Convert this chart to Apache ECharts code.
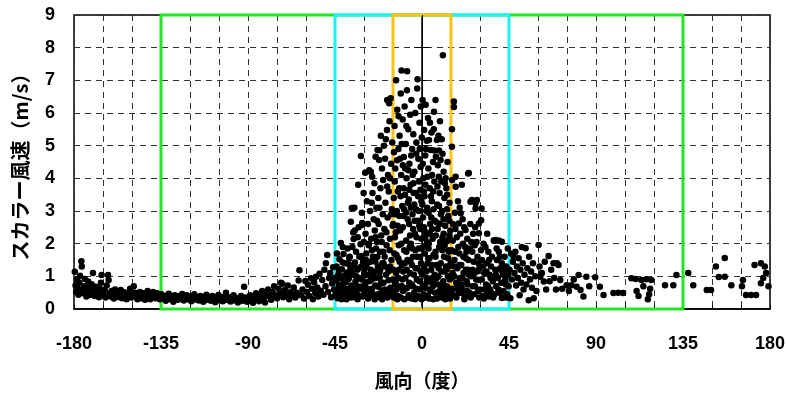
<!DOCTYPE html>
<html>
<head>
<meta charset="utf-8">
<script src="https://cdn.jsdelivr.net/npm/echarts@6/dist/echarts.min.js"></script>
<style>
html,body{margin:0;padding:0;background:#fff;}
#chart{width:786px;height:394px;}
</style>
</head>
<body>
<div id="chart"></div>
<script>
// 風向 (deg) / スカラー風速 (m/s)
var farWest = [[-179.6,1.14],[-179.2,0.72],[-178.9,0.52],[-178.4,0.9],[-178.1,0.63],[-177.7,0.44],[-177.3,0.8],[-176.9,1.02],[-176.2,1.46],[-176,1.3],[-175.7,0.58],[-175.3,0.48],[-174.9,0.7],[-174.4,0.92],[-174,0.55],[-173.6,0.38],[-173.1,0.66],[-172.7,0.84],[-172.3,0.5],[-171.9,0.62],[-171.4,0.44],[-170.9,0.76],[-170.2,1.1],[-169.8,0.53],[-169.3,0.4],[-168.8,0.68],[-168.2,0.57],[-167.7,0.47],[-167.1,0.36],[-166.6,0.62],[-166.1,0.8],[-165.7,1.04],[-165.2,0.5],[-164.8,0.42],[-164.2,0.58],[-163.7,0.35],[-163.1,0.72],[-162.4,1.04],[-162.1,0.89],[-161.6,0.48],[-161,0.38],[-160.5,0.55],[-160,0.45],[-159.4,0.32],[-158.8,0.6],[-158.2,0.42],[-157.6,0.5],[-157,0.37],[-156.4,0.46],[-155.8,0.58],[-155.2,0.33],[-154.6,0.42],[-154,0.51],[-153.4,0.38],[-152.8,0.3],[-152.2,0.47],[-151.6,0.4],[-151,0.62],[-150.4,0.35],[-149.8,0.44],[-149.1,0.7],[-148.5,0.5],[-147.8,0.38],[-147.2,0.3],[-146.6,0.45],[-145.9,0.52],[-145.3,0.33],[-144.6,0.4],[-144,0.48],[-143.3,0.28],[-142.6,0.42],[-141.9,0.55],[-141.2,0.36],[-140.5,0.3],[-139.8,0.45],[-139.1,0.52],[-138.4,0.4],[-137.7,0.33],[-137,0.48],[-136.3,0.38],[-135.6,0.3]];

var west = [[-134.8,0.45],[-134,0.32],[-133.2,0.4],[-132.5,0.25],[-131.7,0.38],[-131,0.47],[-130.2,0.3],[-129.4,0.36],[-128.6,0.22],[-127.9,0.42],[-127.1,0.34],[-126.3,0.28],[-125.5,0.4],[-124.8,0.31],[-124,0.46],[-123.2,0.26],[-122.4,0.35],[-121.6,0.42],[-120.9,0.3],[-120.1,0.38],[-119.3,0.24],[-118.5,0.33],[-117.8,0.45],[-117,0.29],[-116.2,0.37],[-115.4,0.26],[-114.6,0.4],[-113.9,0.32],[-113.1,0.22],[-112.3,0.35],[-111.5,0.44],[-110.8,0.28],[-110,0.36],[-109.2,0.25],[-108.4,0.4],[-107.6,0.3],[-106.9,0.21],[-106.1,0.34],[-105.3,0.43],[-104.5,0.27],[-103.8,0.37],[-103,0.24],[-102.2,0.32],[-101.4,0.5],[-100.7,0.28],[-99.9,0.36],[-99.1,0.23],[-98.3,0.3],[-97.5,0.42],[-96.8,0.26],[-96,0.34],[-95.2,0.2],[-94.4,0.31],[-93.6,0.4],[-92.9,0.25],[-92,0.68],[-91.3,0.35],[-90.5,0.22],[-89.7,0.3],[-88.9,0.42],[-88.2,0.27],[-87.4,0.19],[-86.6,0.36],[-85.8,0.48],[-85,0.3],[-84.3,0.24],[-83.5,0.4],[-82.7,0.55],[-81.9,0.33],[-81.2,0.2],[-80.4,0.44],[-79.6,0.6],[-78.8,0.38],[-78,0.28],[-77.3,0.52],[-76.5,0.7],[-75.7,0.42],[-74.9,0.33],[-74.2,0.62],[-73.4,0.48],[-72.9,0.8],[-72.3,0.77],[-71.8,0.36],[-71,0.58],[-70.2,0.44],[-69.4,0.72],[-68.7,0.3],[-67.9,0.52],[-67.1,0.4],[-66.3,0.66],[-65.5,0.35],[-64.8,0.5],[-63.8,0.87],[-63.4,1.19],[-62.6,0.42],[-61.8,0.6],[-61,0.32],[-60.3,0.86]];

var nearWest = [[-59.6,0.52],[-59,0.74],[-58.3,0.4],[-57.4,0.94],[-57,0.62],[-56.4,0.3],[-55.8,0.82],[-55.2,0.48],[-54.8,0.99],[-54.2,0.66],[-53.6,0.38],[-53,1.08],[-52.4,0.56],[-51.6,0.89],[-51,0.44],[-50.5,1.2],[-49.9,0.7],[-49.7,1.4],[-49,1.65],[-48.6,0.52],[-48,0.95],[-47.5,1.1],[-47,0.36],[-46.5,0.78],[-46,1.28],[-45.5,0.6],[-45.2,0.95]];

var coreA = [[-44.8,0.42],[-44.5,0.88],[-44.2,1.3],[-43.9,0.6],[-43.6,0.33],[-43.3,1.05],[-43,0.75],[-42.7,1.52],[-42.4,0.5],[-42,2.02],[-41.8,0.95],[-41.5,1.22],[-41.2,0.38],[-40.9,0.68],[-40.6,1.68],[-40.3,1.02],[-40,0.52],[-39.7,1.4],[-39.4,0.82],[-39.1,0.3],[-38.8,1.12],[-38.5,1.85],[-38.2,0.62],[-37.9,0.95],[-37.6,1.55],[-37.3,0.44],[-37,1.25],[-36.8,2.67],[-36.5,0.72],[-36.3,3.09],[-36,1.9],[-35.8,1.05],[-35.6,2.34],[-35.4,2.14],[-35.2,0.36],[-35,3.1],[-34.7,1.42],[-34.4,0.85],[-34.1,1.75],[-33.8,0.55],[-33.5,1.2],[-33.2,2.2],[-33,3.8],[-32.7,0.95],[-32.4,1.6],[-32.1,0.4],[-31.8,1.98],[-31.6,4.68],[-31.4,1.3],[-31.1,2.95],[-31,2.57],[-30.9,2.63],[-30.7,0.7],[-30.5,1.45],[-30.2,3.55],[-30.1,2.05],[-30,1.02],[-44,1.7],[-43.1,0.5],[-41,1.9],[-39.5,0.45],[-38,1.38],[-36.2,0.58],[-34.8,2.4],[-33.4,0.7],[-32.8,2.5],[-31.2,0.9]];

var coreB = [[-29.8,0.5],[-29.6,1.25],[-29.4,4.17],[-29.2,2.3],[-29,0.82],[-28.8,1.7],[-28.5,3.3],[-28.3,0.38],[-28,2.6],[-27.8,1.05],[-27.6,1.95],[-27.3,4.25],[-27.1,0.6],[-26.9,3.0],[-26.7,1.45],[-26.5,4.2],[-26.3,2.15],[-26,0.9],[-25.8,4.05],[-25.6,3.55],[-25.4,1.6],[-25.2,0.45],[-25,2.75],[-24.8,1.15],[-24.6,3.85],[-24.4,2.4],[-24.2,0.72],[-24,4.66],[-23.8,1.85],[-23.6,3.1],[-23.4,0.35],[-23.2,2.05],[-23,4.87],[-22.8,1.3],[-22.6,3.4],[-22.4,2.6],[-22.2,4.56],[-22.1,4.86],[-21.9,0.95],[-21.7,1.75],[-21.5,3.7],[-21.3,5.3],[-21.1,2.25],[-20.9,0.55],[-20.7,4.3],[-20.5,1.4],[-20.3,2.9],[-20.1,3.95],[-19.9,0.8],[-19.7,5.0],[-19.5,2.45],[-19.3,1.6],[-19.1,4.6],[-18.9,3.25],[-18.7,5.2],[-18.5,0.42],[-18.3,1.95],[-18.1,5.48],[-18,6.4],[-17.8,2.8],[-17.6,4.1],[-17.4,1.15],[-17.2,3.6],[-17,6.3],[-16.8,5.75],[-16.6,2.15],[-16.4,0.65],[-16.2,6.45],[-16,4.45],[-15.8,1.5],[-15.6,3.05],[-15.4,5.1],[-15.2,2.55],[-15.1,0.9],[-29,1.5],[-28.2,0.62],[-27.4,2.0],[-26.6,0.5],[-25.9,1.8],[-25,0.4],[-24.1,1.45],[-23.3,2.7],[-22.5,0.68],[-21.6,1.2],[-20.8,2.05],[-20,0.38],[-19.2,1.3],[-18.4,2.35],[-17.5,0.55],[-16.7,1.8],[-15.9,2.9],[-15.5,0.4]];

var coreC = [[-14.8,1.2],[-14.6,3.4],[-14.4,0.5],[-14.2,5.6],[-14,2.2],[-13.8,4.3],[-13.6,0.85],[-13.4,7.0],[-13.2,1.65],[-13,3.0],[-12.8,6.1],[-12.6,2.55],[-12.4,0.4],[-12.2,4.9],[-12,1.95],[-11.8,3.7],[-11.6,5.3],[-11.4,0.7],[-11.2,2.4],[-11,6.6],[-10.8,4.1],[-10.6,7.3],[-10.4,1.35],[-10.2,3.15],[-10,5.8],[-9.8,0.55],[-9.6,2.85],[-9.4,4.65],[-9.2,1.8],[-9,6.2],[-8.8,3.5],[-8.6,0.95],[-8.4,5.05],[-8.2,2.1],[-8,4.0],[-7.8,6.7],[-7.7,7.28],[-7.5,1.5],[-7.3,3.25],[-7.1,5.5],[-6.9,0.42],[-6.7,2.6],[-6.5,4.45],[-6.3,1.1],[-6.1,5.95],[-5.9,3.8],[-5.7,2.0],[-5.5,6.4],[-5.3,0.75],[-5.1,4.9],[-4.9,2.9],[-4.7,1.6],[-4.5,5.35],[-4.3,3.55],[-4.1,0.5],[-3.9,4.2],[-3.7,2.3],[-3.5,6.0],[-3.3,1.25],[-3.1,3.05],[-2.9,5.1],[-2.7,0.9],[-2.5,6.75],[-2.3,7.03],[-2.1,2.7],[-1.9,4.6],[-1.7,1.85],[-1.5,3.9],[-1.3,5.7],[-1.1,0.6],[-0.9,2.45],[-0.7,4.35],[-0.5,1.4],[-0.3,3.3],[-0.1,5.25],[-14.9,2.6],[-14.3,1.7],[-13.7,2.9],[-13.1,0.6],[-12.5,3.6],[-11.9,1.2],[-11.3,4.6],[-10.7,2.0],[-10.1,0.9],[-9.5,3.7],[-8.9,1.4],[-8.3,2.95],[-7.6,0.65],[-7,4.25],[-6.4,1.9],[-5.8,3.1],[-5.2,1.35],[-4.6,2.45],[-4,3.2],[-3.4,1.8],[-2.8,2.2],[-2.2,0.4],[-1.6,3.0],[-1,1.6],[-0.4,2.15],[-14.5,4.8],[-12.1,5.9],[-9.9,4.4],[-8.1,5.6],[-6.6,3.65],[-4.8,4.1],[-3,4.75],[-1.2,4.9],[-0.6,6.2]];

var coreD = [[0.1,1.05],[0.3,6.4],[0.5,2.8],[0.7,4.0],[0.9,0.45],[1.1,5.48],[1.3,3.45],[1.5,1.7],[1.7,4.7],[1.9,6.25],[2.1,2.35],[2.3,0.8],[2.5,5.15],[2.7,3.1],[2.9,1.4],[3.1,5.85],[3.3,4.3],[3.5,2.0],[3.6,5.17],[3.8,0.6],[4,3.7],[4.2,2.6],[4.5,4.87],[4.7,1.2],[4.9,5.4],[5.1,3.3],[5.3,0.95],[5.5,2.15],[5.7,4.5],[5.9,1.65],[6.2,6.04],[6.4,3.9],[6.6,2.7],[6.8,0.5],[7,6.4],[7.2,4.66],[7.4,1.35],[7.7,5.17],[7.9,3.2],[8.1,2.45],[8.3,0.75],[8.5,5.3],[8.7,4.05],[8.9,1.9],[9.1,3.55],[9.3,5.75],[9.5,0.4],[9.6,4.56],[9.8,2.9],[10,1.15],[10.2,5.2],[10.4,3.0],[10.6,2.2],[10.8,7.77],[11,0.85],[11.2,4.2],[11.4,1.6],[11.6,3.4],[11.8,0.5],[12,2.55],[12.2,4.0],[12.4,1.3],[12.6,3.7],[12.8,0.7],[13,2.1],[13.2,4.5],[13.4,1.0],[13.6,2.85],[13.8,0.45],[14,1.75],[14.2,3.25],[14.4,0.9],[14.6,2.4],[14.8,1.4],[0.2,3.2],[0.6,1.9],[1,2.5],[1.4,0.65],[1.8,3.8],[2.2,1.15],[2.6,2.05],[3,0.4],[3.4,2.95],[3.9,1.55],[4.4,0.55],[4.8,2.8],[5.2,4.1],[5.6,0.7],[6,3.05],[6.5,1.05],[7.1,2.25],[7.6,0.95],[8,3.75],[8.6,1.25],[9.2,2.6],[9.9,0.65],[10.5,1.8],[11.1,2.75],[11.7,1.95],[12.3,0.55],[12.9,3.05],[13.5,1.55],[14.1,2.7],[14.7,0.6],[2,4.9],[4.1,5.7],[6.1,5.5],[8.8,4.85]];

var coreE = [[15.1,0.55],[15.3,1.8],[15.5,4.97],[15.5,5.5],[15.6,3.95],[15.8,1.1],[16,2.6],[16.3,0.42],[16.5,6.35],[16.5,6.18],[16.8,1.5],[17,2.95],[17.4,3.74],[17.4,4.05],[17.7,0.8],[18,2.2],[18.3,1.25],[18.6,3.3],[18.9,0.5],[19,2.62],[19.3,1.7],[19.6,0.95],[20,2.93],[20.3,1.35],[20.6,3.8],[20.9,0.6],[21.2,2.0],[21.5,1.1],[21.8,2.5],[22.1,0.38],[22.5,2.42],[22.8,1.55],[23.1,0.85],[23.4,2.15],[23.7,1.2],[23.9,4.15],[24.2,4.16],[24.5,0.5],[24.8,1.85],[25.1,3.28],[25.4,1.0],[25.8,3.34],[26.1,0.7],[26.4,2.3],[26.7,1.45],[27,0.45],[27.3,1.95],[27.7,3.08],[27.7,3.24],[28,0.9],[28.4,3.34],[28.7,1.6],[29,0.55],[29.4,2.62],[29.4,2.32],[29.4,0.89],[29.7,1.25],[15.9,2.1],[16.7,1.0],[17.3,2.45],[18.1,0.65],[18.8,1.9],[19.8,2.3],[20.5,0.75],[21.4,1.6],[22.3,1.9],[23.3,0.55],[24,1.5],[25,2.6],[26,1.75],[27.1,1.1],[28.2,2.05],[29.2,1.4]];

var coreF = [[30.2,0.6],[30.6,2.72],[30.8,3.08],[31,1.5],[31.4,0.4],[31.8,2.0],[32.2,1.1],[32.8,1.9],[33.1,0.75],[33.5,1.4],[33.9,0.5],[34.3,1.75],[34.5,0.38],[34.9,1.05],[35.3,0.6],[35.7,1.3],[36.2,1.6],[36.6,0.85],[37.1,2.1],[37.5,0.45],[37.9,1.2],[38,2.11],[38.4,0.7],[38.8,1.5],[39.2,0.95],[39.7,1.75],[39.7,2.1],[40.1,0.5],[40.5,1.25],[41,0.8],[41.3,2.06],[41.3,1.4],[41.3,0.34],[41.8,1.05],[42.2,0.55],[42.7,1.6],[43.1,0.9],[43.6,1.3],[44,0.45],[44.4,1.85],[44.8,0.7],[30.5,1.8],[31.6,1.3],[32.5,0.6],[33.7,2.3],[34.7,1.5],[36,0.48],[37,1.0],[38.6,1.85],[40.3,1.6],[42.5,1.2],[43.8,0.35]];

// dense bottom of the central cone
var coreLow = [[-44.6,0.55],[-44,0.98],[-43.4,0.4],[-42.9,1.18],[-42.2,0.68],[-41.6,0.3],[-41,1.42],[-40.4,0.82],[-39.8,0.35],[-39.2,1.05],[-38.6,0.58],[-38,0.92],[-37.4,1.6],[-36.9,0.35],[-36.4,1.15],[-35.9,0.62],[-35.3,1.35],[-34.6,0.48],[-34,1.0],[-33.3,0.3],[-32.6,1.25],[-32,0.62],[-31.3,1.62],[-30.6,0.38],[-29.9,1.1],[-29.3,0.65],[-28.6,1.35],[-27.9,0.32],[-27.2,0.85],[-26.5,1.2],[-25.8,0.62],[-25.2,1.05],[-24.5,0.3],[-23.9,0.95],[-23.1,1.6],[-22.7,0.45],[-22,1.1],[-21.3,0.78],[-20.6,0.3],[-19.9,1.4],[-19.3,0.6],[-18.6,1.05],[-17.9,0.35],[-17.3,0.88],[-16.5,1.3],[-15.9,0.55],[-15.3,1.2],[-14.7,0.35],[-14,0.75],[-13.4,1.1],[-12.7,0.3],[-12.2,0.95],[-11.6,1.45],[-11,0.35],[-10.4,0.7],[-9.7,1.15],[-9.1,0.3],[-8.5,0.62],[-7.9,1.2],[-7.2,0.35],[-6.6,0.8],[-6,1.45],[-5.4,0.32],[-4.8,0.7],[-4.2,1.05],[-3.6,0.3],[-2.9,0.62],[-2.4,1.25],[-1.8,0.35],[-1.3,0.85],[-0.7,1.15],[-0.2,0.3],[0.4,0.7],[1.2,1.3],[1.7,0.35],[2.4,0.95],[3.2,1.55],[3.7,0.32],[4.3,0.85],[5,1.35],[5.8,0.3],[6.3,0.78],[7,1.6],[7.8,0.32],[8.4,1.0],[9,0.55],[9.7,1.4],[10.3,0.35],[10.9,0.75],[11.5,1.15],[12.1,0.3],[12.7,1.2],[13.3,0.65],[13.9,1.3],[14.5,0.32],[15.2,0.95],[16.1,0.62],[16.9,1.3],[17.8,0.35],[18.6,0.8],[19.4,1.35],[20.2,0.5],[21,0.95],[21.9,0.3],[22.6,1.2],[23.5,0.75],[24.3,1.05],[25.2,0.35],[26.2,1.2],[27.4,0.7],[28.5,1.15],[29.6,0.35],[30.9,0.9],[32,0.32],[33.3,1.15],[34.1,0.7],[35.5,0.95],[36.8,0.35],[38.2,1.05],[39.5,0.6],[40.8,1.2],[42,0.35],[43.4,0.75],[44.6,1.05]];

var coreMid = [[-14.1,3.9],[-13.5,2.35],[-12.9,4.55],[-12.3,1.55],[-11.7,2.85],[-11.1,3.45],[-10.5,5.05],[-9.9,2.5],[-9.3,3.05],[-8.7,4.3],[-8.1,1.75],[-7.4,2.75],[-6.8,3.35],[-6.2,2.25],[-5.6,4.7],[-5,1.85],[-4.4,3.85],[-3.8,2.7],[-3.2,3.55],[-2.6,1.6],[-2,3.45],[-1.4,2.55],[-0.8,3.65],[-0.2,1.85],[0.4,4.45],[1,3.6],[1.6,2.2],[2.2,3.0],[2.8,4.05],[3.4,1.85],[4,2.3],[4.6,3.45],[5.2,2.45],[5.8,3.6],[6.4,4.85],[7,1.75],[7.6,2.65],[8.2,4.4],[8.8,3.15],[9.4,2.05],[10,3.9],[10.6,4.75],[11.2,2.3],[11.8,3.85],[12.4,2.05],[13,3.5],[13.6,1.8],[14.2,2.25],[-26,3.25],[-24,2.2],[-22,3.1],[-20,1.75],[-18,3.75],[-16.5,4.0],[17,1.75],[19.5,3.1],[21,2.75],[23,1.75],[25.5,2.05],[27.5,2.5]];

var nearEast = [[45.3,1.2],[45.7,0.33],[46.1,1.7],[46.5,0.9],[47,1.45],[47.4,1.6],[47.8,1.1],[48.3,1.75],[48.7,0.72],[49.1,1.3],[49.6,0.95],[50,1.55],[50.5,0.42],[50.9,1.2],[51.3,0.8],[51.6,1.9],[52.1,1.4],[52.5,0.6],[53,1.05],[53.6,1.86],[54,0.75],[54.5,1.25],[55.2,0.27],[55.4,1.6],[55.9,0.9],[56.4,1.15],[56.9,0.65],[57.4,1.4],[57.8,0.33],[58.6,1.0],[59.2,0.55],[60.3,1.96],[60.8,1.3],[61.2,0.99],[62,1.1],[63,0.84],[63.5,1.45],[64.2,0.6],[65.5,1.62],[66,0.85],[66.8,1.2],[68,1.4],[68.4,0.95],[69.3,0.6],[69.8,1.4]];

var east = [[70.6,1.35],[71.5,0.89],[72.5,0.62],[74.8,0.73],[76,0.55],[77.3,0.73],[78.5,0.9],[80,0.68],[81,1.04],[82,0.58],[83.5,0.38],[85,0.99],[86.5,0.7],[89.6,0.97],[92,0.68],[93.9,0.43],[99,0.49],[101.5,0.5],[104,0.49],[108.3,0.94],[110.5,0.92],[111,0.55],[112,0.4],[113.5,0.89],[114.5,0.7],[116,0.91],[116.8,0.3],[117.5,0.45],[118.6,0.89],[118,0.62],[125.7,0.73],[130,0.73],[131.6,1.04]];

var farEast = [[137.7,1.1],[140.3,0.73],[147.3,0.58],[149.5,0.58],[152,1.3],[153.5,0.98],[156.6,1.56],[156.6,0.99],[160,0.73],[166,0.89],[165.5,0.7],[167.6,0.43],[170.2,0.43],[172.8,0.43],[172,1.35],[175.3,1.4],[177.3,1.3],[178,1.1],[175.3,0.79],[176.5,0.95],[179.2,0.7]];

// sector boxes [from, to] in degrees
var greenBox = [-135, 135];
var cyanBox = [-45, 45];
var orangeBox = [-15, 15];

var xTicks = [-180, -135, -90, -45, 0, 45, 90, 135, 180];

var points = [].concat(farWest, west, nearWest, coreA, coreB, coreC, coreD, coreE, coreF, coreLow, coreMid, nearEast, east, farEast);

var chart = echarts.init(document.getElementById('chart'));

var labelFont = {
  color: '#000',
  fontFamily: 'Liberation Sans, Arial, sans-serif',
  fontWeight: 'bold',
  fontSize: 18
};
var nameFont = { color: '#000', fontFamily: 'Noto Sans CJK JP', fontWeight: 'bold', fontSize: 19 };

function boxSeries(range, color, z) {
  return {
    type: 'line',
    data: [],
    z: z,
    silent: true,
    markArea: {
      silent: true,
      itemStyle: { color: 'transparent', borderColor: color, borderWidth: 3 },
      data: [[{ coord: [range[0], 0] }, { coord: [range[1], 9] }]]
    }
  };
}

chart.setOption({
  animation: false,
  grid: {
    left: 74, right: 16, top: 15, bottom: 85,
    outerBoundsMode: 'none',
    containLabel: false,
    show: true, borderColor: '#000', borderWidth: 1.5, backgroundColor: '#fff'
  },
  xAxis: {
    type: 'value',
    min: -180, max: 180, interval: 15,
    name: '風向（度）',
    nameLocation: 'middle',
    nameGap: 62,
    nameTextStyle: nameFont,
    axisLine: { onZero: false, lineStyle: { color: '#000', width: 1.5 } },
    axisTick: { inside: true, length: 4, lineStyle: { color: '#000' } },
    axisLabel: Object.assign({
      margin: 26,
      formatter: function (v) { return xTicks.indexOf(v) >= 0 ? String(v) : ''; }
    }, labelFont),
    splitLine: { show: true, lineStyle: { color: '#333', type: [6, 5], width: 1 } }
  },
  yAxis: {
    type: 'value',
    min: 0, max: 9, interval: 1,
    name: 'スカラー風速（m/s）',
    nameLocation: 'middle',
    nameGap: 44,
    nameTextStyle: Object.assign({}, nameFont, { fontSize: 20 }),
    axisLine: { show: true, lineStyle: { color: '#000', width: 1.5 } },
    axisTick: { show: true, inside: true, length: 4, lineStyle: { color: '#000' } },
    axisLabel: Object.assign({ margin: 19 }, labelFont),
    splitLine: { show: true, lineStyle: { color: '#333', type: [6, 5], width: 1 } }
  },
  series: [
    {
      type: 'line',
      data: [],
      z: 1,
      markLine: {
        silent: true,
        symbol: 'none',
        label: { show: false },
        lineStyle: { color: '#000', type: 'solid', width: 1 },
        data: [
          { xAxis: 0 },
          [{ coord: [-4, 8] }, { coord: [4, 8] }]
        ]
      }
    },
    {
      type: 'scatter',
      z: 2,
      symbol: 'circle',
      symbolSize: 6.5,
      itemStyle: { color: '#000', opacity: 1 },
      data: points
    },
    boxSeries(greenBox, '#22e622', 3),
    boxSeries(cyanBox, '#1ef2f2', 4),
    boxSeries(orangeBox, '#ffc20e', 5)
  ]
});
</script>
</body>
</html>
